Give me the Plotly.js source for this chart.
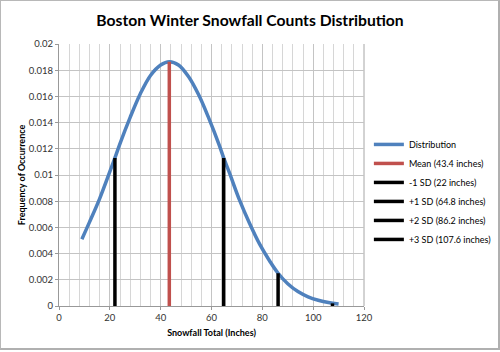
<!DOCTYPE html>
<html>
<head>
<meta charset="utf-8">
<script src="https://cdn.plot.ly/plotly-3.0.1.min.js"></script>
<style>
html,body{margin:0;padding:0;background:#fff;}
#frame{position:absolute;left:0;top:0;width:497px;height:347px;border-left:1px solid #b8b8b8;border-top:1px solid #b8b8b8;border-right:2px solid #b0b0b0;border-bottom:2px solid #b0b0b0;}
#chart{position:absolute;left:0;top:0;width:500px;height:352px;}
</style>
</head>
<body>
<div id="chart"></div>
<div id="frame"></div>
<script>
// Distribution curve
const curveX = [9, 12, 16, 20, 22, 24, 28, 32, 36, 40, 43.4, 47, 51, 55, 59, 63, 64.8, 67, 71, 75, 79, 83, 86.2, 90, 94, 98, 102, 106, 110];
const curveY = [0.0051, 0.0064, 0.0082, 0.01025, 0.0113, 0.0124, 0.0144, 0.0162, 0.0176, 0.0184, 0.01865, 0.0184, 0.0175, 0.0161, 0.0143, 0.0123, 0.0113, 0.0102, 0.0081, 0.0063, 0.0047, 0.0034, 0.0025, 0.0017, 0.0011, 0.0007, 0.00044, 0.00026, 0.00015];

// Reference lines (mean and standard deviations)
const markerNames = ["Mean (43.4 inches)", "-1 SD (22 inches)", "+1 SD (64.8 inches)", "+2 SD (86.2 inches)", "+3 SD (107.6 inches)"];
const markerX = [43.4, 22, 64.8, 86.2, 107.6];
const markerTop = [0.01865, 0.0113, 0.0113, 0.0025, 0.0002];
const markerColors = ["#C0504D", "#000000", "#000000", "#000000", "#000000"];

const traces = [{
  x: curveX, y: curveY, type: "scatter", mode: "lines",
  name: "Distribution", line: {color: "#4F81BD", width: 3.5, shape: "spline", smoothing: 1},
  legendgroup: "g0"
}];
markerNames.forEach((n, i) => {
  traces.push({
    x: [markerX[i], markerX[i]], y: [0, markerTop[i]], type: "scatter", mode: "lines",
    name: n, line: {color: markerColors[i], width: 3.5}, legendgroup: "g" + (i + 1)
  });
});

const layout = {
  width: 500, height: 352,
  margin: {l: 59, r: 136, t: 44, b: 46, autoexpand: false},
  paper_bgcolor: "#fff", plot_bgcolor: "#fff",
  font: {family: "Lato, sans-serif", color: "#222", size: 10},
  title: {text: "<b>Boston Winter Snowfall Counts Distribution</b>", font: {size: 15.7, color: "#000"},
          x: 0.5, xanchor: "center", xref: "container", y: 1 - 21/352, yanchor: "middle"},
  xaxis: {
    range: [0, 120], dtick: 20, tick0: 0, showgrid: true, gridcolor: "#c4c4c4", gridwidth: 1,
    minor: {dtick: 4, showgrid: true, gridcolor: "#d6d6d6", gridwidth: 1},
    ticks: "outside", ticklen: 3, tickcolor: "#999", showline: true, linecolor: "#999",
    zeroline: false, tickfont: {size: 9.5, color: "#333"},
    title: {text: "<b>Snowfall Total (Inches)</b>", font: {size: 9, color: "#000"}, standoff: 7}
  },
  yaxis: {
    range: [0, 0.02], dtick: 0.002, tick0: 0, showgrid: true, gridcolor: "#c4c4c4", gridwidth: 1,
    ticks: "outside", ticklen: 3, tickcolor: "#999", showline: true, linecolor: "#999",
    zeroline: false, tickfont: {size: 9.5, color: "#333"},
    title: {text: "<b>Frequency of Occurrence</b>", font: {size: 9, color: "#000"}, standoff: 1}
  },
  showlegend: true,
  legend: {x: 1.016, y: 0.672, xanchor: "left", yanchor: "top", font: {size: 9, color: "#000"},
           bgcolor: "rgba(0,0,0,0)", itemwidth: 30, tracegroupgap: 0, traceorder: "grouped"},
  shapes: [{type: "rect", xref: "paper", yref: "paper", x0: 1, x1: 1, y0: 0, y1: 1, line: {color: "#c4c4c4", width: 1}}]
};

Plotly.newPlot("chart", traces, layout, {displayModeBar: false, staticPlot: true});
</script>
</body>
</html>
